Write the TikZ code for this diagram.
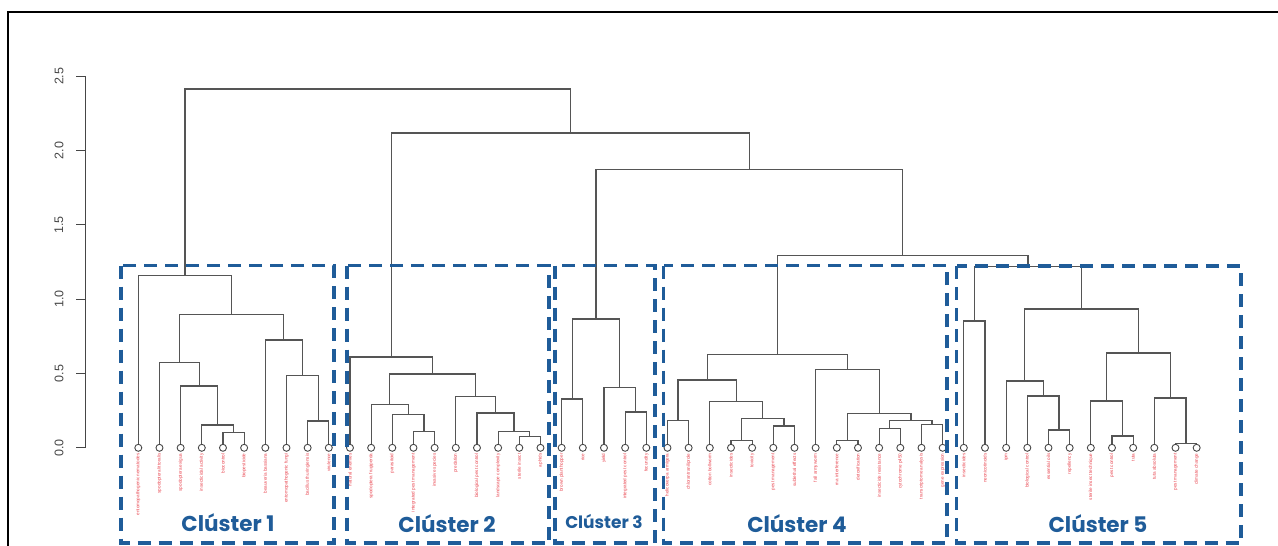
\documentclass[tikz,border=0pt]{standalone}
\usepackage{fontspec}
\setmainfont{Liberation Sans}
\newfontfamily\popp{Poppins}
\usetikzlibrary{calc}
\definecolor{cblue}{RGB}{31,92,153}
\definecolor{lred}{RGB}{232,70,80}
\definecolor{dg}{RGB}{85,85,85}
\definecolor{ax}{RGB}{70,70,70}
\tikzset{
  dend/.style={draw=dg, line width=1.2pt},
  leaf/.style={circle, draw=ax, line width=0.9pt, minimum size=7pt, inner sep=0pt},
  lab/.style={font=\fontsize{4.6}{5}\selectfont, text=lred, rotate=90, anchor=east, inner sep=0pt},
  cbox/.style={draw=cblue, line width=3.2pt, dash pattern=on 13pt off 8pt},
  ctext/.style={text=cblue, font=\popp\bfseries\fontsize{21.5}{26}\selectfont},
  ticklab/.style={text=ax, rotate=90, font=\fontsize{12.5}{14}\selectfont}
}
\newcommand\jn[4]{\path ($(#2)!.5!(#3)$) coordinate (#1x); \coordinate (#1) at (#1x |- 0,#4); \draw[dend] (#2) |- (#1) -| (#3);}
\begin{document}
\begin{tikzpicture}[x=1pt,y=-1pt]
\useasboundingbox (0,0) rectangle (1278,546);
% frame
\draw[line width=2pt, black] (8,560) -- (8,12) -- (1290,12);
% axis
\draw[ax, line width=1pt] (85,76.3) -- (85,447.8);
\foreach \v/\s in {0/0.0,0.5/0.5,1/1.0,1.5/1.5,2/2.0,2.5/2.5}{
  \draw[ax, line width=1pt] (85,{447.8-\v*148.6}) -- (76,{447.8-\v*148.6});
  \node[ticklab] (tk\s) at (59,{447.8-\v*148.6}) {\s};
}
% leaves
\foreach \i in {1,...,51}{
  \node[leaf] (l\i) at ({138.3+(\i-1)*21.167},447.8) {};
}
\foreach \t [count=\i] in {entomopathogenic nematodes, spodoptera littoralis, spodoptera exigua, insecticidal activity, biocontrol, biopesticide, beauveria bassiana, entomopathogenic fungi, bacillus thuringiensis, virulence, natural enemies, spodoptera frugiperda, parasitoid, integrated pest management, invasive species, predation, biological pest control, landscape complexity, sterile insect, aphids, brown planthopper, rice, yield, integrated pest control, fecundity, helicoverpa armigera, chlorantraniliprole, cotton bollworm, insecticides, toxicity, pest management, sublethal effects, fall armyworm, rna interference, detoxification, insecticide resistance, cytochrome p450, transcriptome analysis, gene expression, insecticides, neonicotinoids, ipm, biological control, essential oils, repellency, sterile insect technique, pest control, tuta, tuta absoluta, pest management, climate change}{
  \node[lab] (t\i) at ([yshift=-1.5pt]l\i.south) {\t};
}
% cluster 1
\jn{a56}{l5}{l6}{432.3}
\jn{a456}{l4}{a56}{425}
\jn{a3}{l3}{a456}{386}
\jn{a2}{l2}{a3}{362.7}
\jn{b910}{l9}{l10}{421}
\jn{b8}{l8}{b910}{375.3}
\jn{b7}{l7}{b8}{340}
\jn{c1}{a2}{b7}{314.3}
\jn{C1}{l1}{c1}{275.3}
% cluster 2
\jn{d1415}{l14}{l15}{431.7}
\jn{d13}{l13}{d1415}{414.3}
\jn{d12}{l12}{d13}{404.3}
\jn{e1920}{l19}{l20}{436.3}
\jn{e18}{l18}{e1920}{431.3}
\jn{e17}{l17}{e18}{413}
\jn{e16}{l16}{e17}{396.3}
\jn{f2}{d12}{e16}{374}
\jn{C2}{l11}{f2}{357}
% cluster 3
\jn{g2122}{l21}{l22}{399}
\jn{g2425}{l24}{l25}{412}
\jn{g23}{l23}{g2425}{387.3}
\jn{C3}{g2122}{g23}{319}
% cluster 4
\jn{h2627}{l26}{l27}{420.7}
\jn{h2930}{l29}{l30}{440.7}
\jn{h3132}{l31}{l32}{426}
\jn{hm}{h2930}{h3132}{418.7}
\jn{h28}{l28}{hm}{401.3}
\jn{hL}{h2627}{h28}{380}
\jn{i3435}{l34}{l35}{440.7}
\jn{i3637}{l36}{l37}{428.7}
\jn{i3839}{l38}{l39}{424.7}
\jn{im}{i3637}{i3839}{420.3}
\jn{ism}{i3435}{im}{413.7}
\jn{iR}{l33}{ism}{369.3}
\jn{C4}{hL}{iR}{354.7}
% cluster 5
\jn{j4041}{l40}{l41}{321}
\jn{j4445}{l44}{l45}{430}
\jn{j43}{l43}{j4445}{396}
\jn{j42}{l42}{j43}{381}
\jn{k4748}{l47}{l48}{436}
\jn{k46}{l46}{k4748}{401}
\jn{k5051}{l50}{l51}{443.2}
\jn{k49}{l49}{k5051}{398}
\jn{kR}{k46}{k49}{353}
\jn{m5}{j42}{kR}{309}
\jn{C5}{j4041}{m5}{266.7}
% upper levels
\jn{C45}{C4}{C5}{255.7}
\jn{C345}{C3}{C45}{169.7}
\jn{C2345}{C2}{C345}{133}
\jn{root}{C1}{C2345}{89}
% cluster boxes
\draw[cbox] (121,265.5) rectangle (334,543);
\draw[cbox] (347,265.5) rectangle (549,543);
\draw[cbox] (555,265.5) rectangle (655,543);
\draw[cbox] (663.5,265.5) rectangle (947,543);
\draw[cbox] (956.5,266) rectangle (1241,543);
% cluster labels
\node[ctext] (n1) at (228,523) {Clúster 1};
\node[ctext] (n2) at (447,524) {Clúster 2};
\node[ctext, font=\popp\bfseries\fontsize{17}{20}\selectfont] (n3) at (604,522) {Clúster 3};
\node[ctext] (n4) at (797,524) {Clúster 4};
\node[ctext] (n5) at (1098,524) {Clúster 5};
\end{tikzpicture}
\end{document}
